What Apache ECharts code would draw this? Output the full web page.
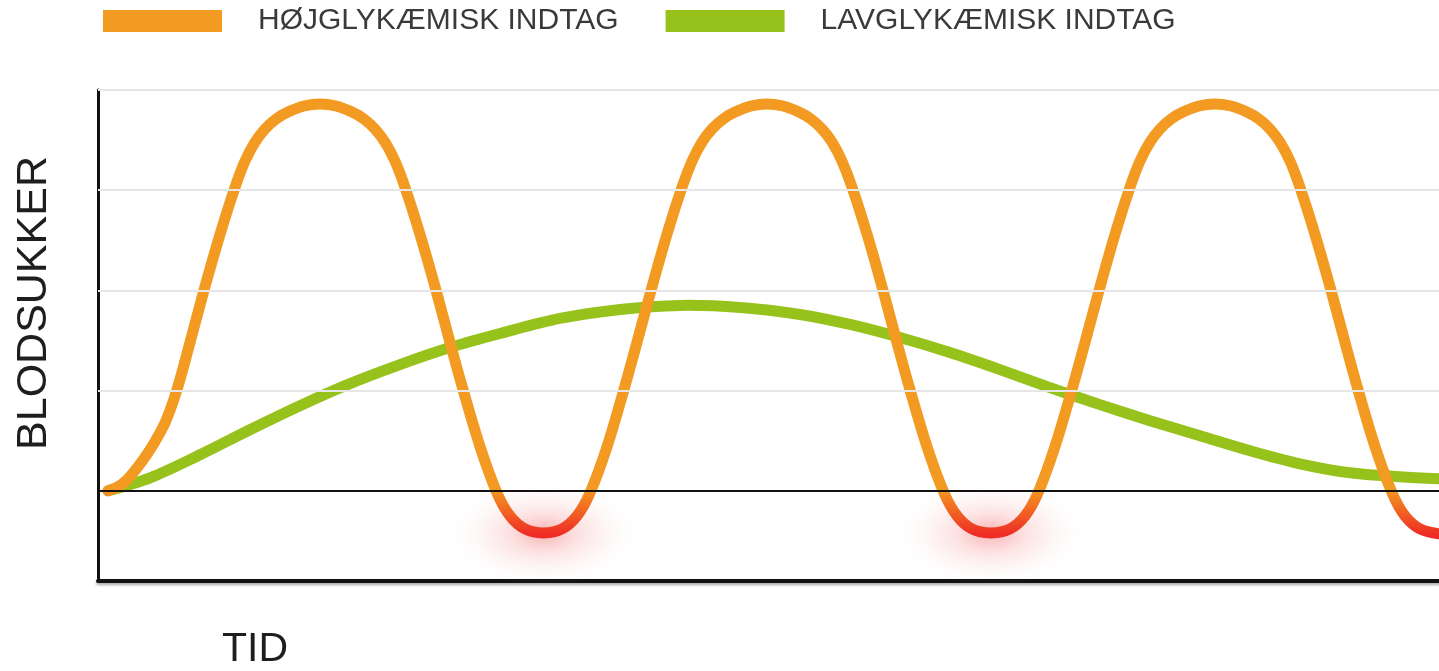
<!DOCTYPE html>
<html>
<head>
<meta charset="utf-8">
<title>Blodsukker over tid</title>
<script src="https://cdn.jsdelivr.net/npm/echarts@6/dist/echarts.min.js"></script>
<style>
  html, body { margin: 0; padding: 0; background: #ffffff; }
  #chart { width: 1439px; height: 671px; }
</style>
</head>
<body>
<div id="chart"></div>
<script>
// Series names (legend labels)
const seriesNames = ['HØJGLYKÆMISK INDTAG', 'LAVGLYKÆMISK INDTAG'];
const axisTitles = { y: 'BLODSUKKER', x: 'TID' };

// Blood sugar relative to the fasting level (0), time in arbitrary units 0–100
const highGlycemic = [
  [0.75, 0.0], [1.49, 0.04], [2.16, 0.11], [2.98, 0.24], [3.88, 0.41], [5.00, 0.68],
  [5.89, 1.01], [6.86, 1.48], [7.90, 2.00], [9.10, 2.56], [10.22, 3.03],
  [10.96, 3.29], [11.71, 3.48], [12.45, 3.61], [13.27, 3.71], [14.17, 3.78],
  [15.36, 3.84], [16.55, 3.86],
  [17.75, 3.84], [18.94, 3.78], [19.84, 3.71], [20.66, 3.61], [21.40, 3.48],
  [22.15, 3.29], [22.89, 3.03], [24.01, 2.56], [25.21, 2.00], [26.25, 1.48],
  [27.22, 1.01], [28.49, 0.44], [29.75, -0.02], [30.72, -0.25], [31.84, -0.38],
  [33.22, -0.42],
  [34.60, -0.38], [35.72, -0.25], [36.69, -0.02], [37.96, 0.44], [39.22, 1.01],
  [40.19, 1.48], [41.24, 2.00], [42.43, 2.56], [43.55, 3.03], [44.30, 3.29],
  [45.04, 3.48], [45.79, 3.61], [46.61, 3.71], [47.50, 3.78], [48.70, 3.84],
  [49.89, 3.86],
  [51.08, 3.84], [52.27, 3.78], [53.17, 3.71], [53.99, 3.61], [54.74, 3.48],
  [55.48, 3.29], [56.23, 3.03], [57.35, 2.56], [58.54, 2.00], [59.58, 1.48],
  [60.55, 1.01], [61.82, 0.44], [63.09, -0.02], [64.06, -0.25], [65.17, -0.38],
  [66.59, -0.42],
  [68.01, -0.38], [69.13, -0.25], [70.10, -0.02], [71.36, 0.44], [72.63, 1.01],
  [73.60, 1.48], [74.65, 2.00], [75.84, 2.56], [76.96, 3.03], [77.70, 3.29],
  [78.45, 3.48], [79.19, 3.61], [80.01, 3.71], [80.91, 3.78], [82.10, 3.84],
  [83.30, 3.86],
  [84.49, 3.84], [85.68, 3.78], [86.58, 3.71], [87.40, 3.61], [88.14, 3.48],
  [88.89, 3.29], [89.63, 3.03], [90.75, 2.56], [91.95, 2.00], [92.99, 1.48],
  [93.96, 1.01], [95.23, 0.44], [96.50, -0.02], [97.46, -0.25], [98.58, -0.38],
  [100, -0.43]
];

const lowGlycemic = [
  [0.75, 0.0], [3.88, 0.13], [7.61, 0.36], [11.33, 0.61], [15.06, 0.85],
  [18.79, 1.07], [22.52, 1.26], [26.25, 1.43], [29.98, 1.57], [34.45, 1.72],
  [38.93, 1.81], [43.40, 1.85], [47.87, 1.83], [52.35, 1.76], [56.08, 1.66],
  [59.81, 1.53], [63.53, 1.38], [67.26, 1.21], [70.99, 1.03], [74.72, 0.86],
  [78.45, 0.70], [82.18, 0.55], [85.91, 0.40], [89.63, 0.27], [93.36, 0.18],
  [97.09, 0.14], [100, 0.12]
];

// Low points of the high-glycemic curve that get a red halo
const dipPoints = [[33.22, -0.42], [66.59, -0.42]];
const dipLevel = -0.42;

// Reference levels: light guides and the fasting baseline
const guideLevels = [1, 2, 3, 4];
const baselineLevel = 0;

const ORANGE = '#F39A22';
const RED = '#EE2B24';
const GREEN = '#97C21C';
const CURVE_WIDTH = 11;

const chart = echarts.init(document.getElementById('chart'), null, { renderer: 'canvas' });

// Draws a whole series as one smooth curve through its points (axis coordinates)
function curveRenderer(points, strokeFor) {
  return function (params, api) {
    if (params.dataIndex !== 0) return null;
    const pts = points.map(p => api.coord(p));
    return {
      type: 'polyline',
      silent: true,
      shape: { points: pts, smooth: 0.33 },
      style: {
        fill: null,
        stroke: strokeFor(api),
        lineWidth: CURVE_WIDTH,
        lineCap: 'round',
        lineJoin: 'round'
      }
    };
  };
}

// Orange above the baseline, turning red towards the dips
function highStroke(api) {
  const y0 = api.coord([0, baselineLevel])[1];
  const y1 = api.coord([0, dipLevel])[1];
  return new echarts.graphic.LinearGradient(0, y0 - 2, 0, y1 + 2, [
    { offset: 0, color: ORANGE },
    { offset: 1, color: RED }
  ], true);
}

chart.setOption({
  animation: false,
  backgroundColor: '#ffffff',
  textStyle: { fontFamily: 'Liberation Sans, Arial, sans-serif' },
  grid: { left: 98, right: 0, top: 90, bottom: 90, containLabel: false },
  legend: {
    left: 98,
    top: 1,
    icon: 'rect',
    itemWidth: 119,
    itemHeight: 22,
    itemGap: 47,
    selectedMode: false,
    textStyle: {
      fontSize: 30,
      color: '#3a3a3a',
      fontFamily: 'Liberation Sans, Arial, sans-serif',
      padding: [0, 0, 0, 31]
    },
    data: [
      { name: seriesNames[0], itemStyle: { color: ORANGE } },
      { name: seriesNames[1], itemStyle: { color: GREEN } }
    ]
  },
  xAxis: {
    type: 'value',
    min: 0,
    max: 100,
    axisLine: { show: true, onZero: false, lineStyle: { color: '#111', width: 4, shadowColor: 'rgba(0,0,0,0.35)', shadowBlur: 3, shadowOffsetY: 2 } },
    axisTick: { show: false },
    axisLabel: { show: false },
    splitLine: { show: false }
  },
  yAxis: {
    type: 'value',
    min: -0.9,
    max: 4,
    axisLine: { show: true, lineStyle: { color: '#111', width: 3 } },
    axisTick: { show: false },
    axisLabel: { show: false },
    splitLine: { show: false }
  },
  graphic: [
    {
      type: 'text',
      x: 34,
      y: 303,
      rotation: Math.PI / 2,
      style: {
        text: axisTitles.y,
        fontSize: 43,
        fontFamily: 'Liberation Sans, Arial, sans-serif',
        fill: '#1e1e1e',
        align: 'center',
        verticalAlign: 'middle'
      }
    },
    {
      type: 'text',
      x: 222,
      y: 650,
      style: {
        text: axisTitles.x,
        fontSize: 41,
        fontFamily: 'Liberation Sans, Arial, sans-serif',
        fill: '#1e1e1e',
        align: 'left',
        verticalAlign: 'middle'
      }
    }
  ],
  series: [
    {
      name: seriesNames[0],
      type: 'custom',
      data: highGlycemic,
      z: 4,
      clip: false,
      itemStyle: { color: ORANGE },
      renderItem: curveRenderer(highGlycemic, highStroke)
    },
    {
      name: seriesNames[1],
      type: 'custom',
      data: lowGlycemic,
      z: 3,
      clip: false,
      itemStyle: { color: GREEN },
      renderItem: curveRenderer(lowGlycemic, () => GREEN)
    },
    {
      // red halo under each dip below the baseline
      name: 'dip',
      type: 'scatter',
      data: dipPoints,
      symbol: 'circle',
      symbolSize: [200, 110],
      silent: true,
      z: 2,
      itemStyle: {
        color: new echarts.graphic.RadialGradient(0.5, 0.5, 0.5, [
          { offset: 0, color: 'rgba(240,40,40,0.45)' },
          { offset: 0.35, color: 'rgba(240,70,70,0.2)' },
          { offset: 0.7, color: 'rgba(245,120,120,0.06)' },
          { offset: 1, color: 'rgba(255,255,255,0)' }
        ])
      }
    },
    {
      // guide lines and baseline
      name: 'levels',
      type: 'line',
      data: [],
      silent: true,
      z: 1,
      markLine: {
        silent: true,
        symbol: 'none',
        label: { show: false },
        data: guideLevels.map(v => ({
          yAxis: v,
          lineStyle: { color: '#e6e6e6', width: 2, type: 'solid' }
        })).concat([{
          yAxis: baselineLevel,
          lineStyle: { color: '#111', width: 2, type: 'solid' }
        }])
      }
    }
  ]
});
</script>
</body>
</html>
